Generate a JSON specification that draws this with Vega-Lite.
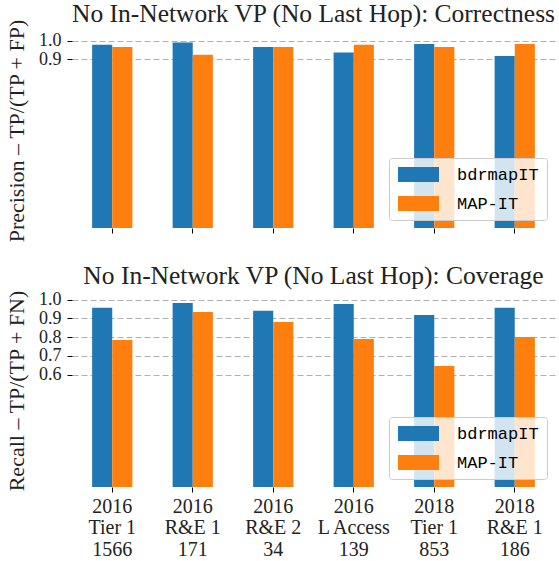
{
  "$schema": "https://vega.github.io/schema/vega-lite/v6.json",
  "padding": {"left": 5, "right": 2, "top": 2, "bottom": 2},
  "spacing": 21,
  "background": "white",
  "datasets": {
    "precision": [
      {"group": "2016\nTier 1\n1566", "method": "bdrmapIT", "value": 0.977},
      {"group": "2016\nTier 1\n1566", "method": "MAP-IT", "value": 0.966},
      {"group": "2016\nR&E 1\n171", "method": "bdrmapIT", "value": 0.989},
      {"group": "2016\nR&E 1\n171", "method": "MAP-IT", "value": 0.924},
      {"group": "2016\nR&E 2\n34", "method": "bdrmapIT", "value": 0.966},
      {"group": "2016\nR&E 2\n34", "method": "MAP-IT", "value": 0.966},
      {"group": "2016\nL Access\n139", "method": "bdrmapIT", "value": 0.936},
      {"group": "2016\nL Access\n139", "method": "MAP-IT", "value": 0.977},
      {"group": "2018\nTier 1\n853", "method": "bdrmapIT", "value": 0.982},
      {"group": "2018\nTier 1\n853", "method": "MAP-IT", "value": 0.966},
      {"group": "2018\nR&E 1\n186", "method": "bdrmapIT", "value": 0.918},
      {"group": "2018\nR&E 1\n186", "method": "MAP-IT", "value": 0.982}
    ],
    "recall": [
      {"group": "2016\nTier 1\n1566", "method": "bdrmapIT", "value": 0.956},
      {"group": "2016\nTier 1\n1566", "method": "MAP-IT", "value": 0.785},
      {"group": "2016\nR&E 1\n171", "method": "bdrmapIT", "value": 0.982},
      {"group": "2016\nR&E 1\n171", "method": "MAP-IT", "value": 0.934},
      {"group": "2016\nR&E 2\n34", "method": "bdrmapIT", "value": 0.940},
      {"group": "2016\nR&E 2\n34", "method": "MAP-IT", "value": 0.881},
      {"group": "2016\nL Access\n139", "method": "bdrmapIT", "value": 0.977},
      {"group": "2016\nL Access\n139", "method": "MAP-IT", "value": 0.790},
      {"group": "2018\nTier 1\n853", "method": "bdrmapIT", "value": 0.918},
      {"group": "2018\nTier 1\n853", "method": "MAP-IT", "value": 0.646},
      {"group": "2018\nR&E 1\n186", "method": "bdrmapIT", "value": 0.956},
      {"group": "2018\nR&E 1\n186", "method": "MAP-IT", "value": 0.801}
    ]
  },
  "resolve": {"scale": {"color": "independent"}, "legend": {"color": "independent"}},
  "vconcat": [
    {
      "data": {"name": "precision"},
      "title": {"text": "No In-Network VP (No Last Hop): Correctness", "offset": -9},
      "width": 483,
      "height": 195,
      "mark": {"type": "bar"},
      "encoding": {
        "x": {"field": "group", "type": "nominal", "sort": null,
              "scale": {"paddingInner": 0.5, "paddingOuter": 0.25},
              "axis": {"labels": false, "title": null}},
        "xOffset": {"field": "method", "sort": ["bdrmapIT", "MAP-IT"], "scale": {"paddingInner": 0, "paddingOuter": 0}},
        "y": {"field": "value", "type": "quantitative",
              "scale": {"domain": [0, 1.04], "nice": false},
              "axis": {"values": [0.9, 1.0], "format": ".1f", "title": "Precision – TP/(TP + FP)", "grid": true}},
        "color": {"field": "method", "type": "nominal",
                  "scale": {"domain": ["bdrmapIT", "MAP-IT"], "range": ["#1f77b4", "#ff7f0e"]},
                  "legend": {"title": null}}
      }
    },
    {
      "data": {"name": "recall"},
      "title": {"text": "No In-Network VP (No Last Hop): Coverage", "offset": 0},
      "width": 483,
      "height": 193,
      "mark": {"type": "bar"},
      "encoding": {
        "x": {"field": "group", "type": "nominal", "sort": null,
              "scale": {"paddingInner": 0.5, "paddingOuter": 0.25},
              "axis": {"labels": true, "title": null, "labelExpr": "split(datum.label, '\\n')", "labelAngle": 0, "labelFontSize": 20, "labelLineHeight": 21.5, "labelPadding": 4, "labelBaseline": "top"}},
        "xOffset": {"field": "method", "sort": ["bdrmapIT", "MAP-IT"], "scale": {"paddingInner": 0, "paddingOuter": 0}},
        "y": {"field": "value", "type": "quantitative",
              "scale": {"domain": [0, 1.03], "nice": false},
              "axis": {"values": [0.6, 0.7, 0.8, 0.9, 1.0], "format": ".1f", "title": "Recall – TP/(TP + FN)", "grid": true}},
        "color": {"field": "method", "type": "nominal",
                  "scale": {"domain": ["bdrmapIT", "MAP-IT"], "range": ["#1f77b4", "#ff7f0e"]},
                  "legend": {"title": null}}
      }
    }
  ],
  "config": {
    "view": {"stroke": null},
    "title": {"font": "Liberation Serif", "fontSize": 25.5, "fontWeight": "normal", "color": "#222222", "anchor": "middle", "frame": "group"},
    "axis": {
      "domain": false,
      "tickColor": "#000000",
      "tickSize": 5,
      "tickWidth": 1,
      "labelFont": "Liberation Serif",
      "labelFontSize": 18,
      "labelColor": "#222222",
      "labelOverlap": false,
      "titleFont": "Liberation Serif",
      "titleFontSize": 22,
      "titleFontWeight": "normal",
      "titleColor": "#222222"
    },
    "axisX": {"grid": false, "labelPadding": 4},
    "axisY": {"gridDash": [6, 3], "gridColor": "#b0b0b0", "gridWidth": 1, "labelPadding": 6, "titlePadding": 10},
    "legend": {
      "orient": "bottom-right",
      "offset": 8,
      "padding": 8,
      "fillColor": "rgba(255,255,255,0.8)",
      "strokeColor": "#cccccc",
      "cornerRadius": 3,
      "symbolType": "M-2.733,-1H2.733V1H-2.733Z",
      "symbolSize": 225,
      "symbolOffset": 13,
      "symbolStrokeWidth": 0,
      "symbolOpacity": 1,
      "labelOffset": 30,
      "labelFont": "Liberation Mono",
      "labelFontSize": 17,
      "labelColor": "#000000",
      "rowPadding": 11
    }
  }
}
